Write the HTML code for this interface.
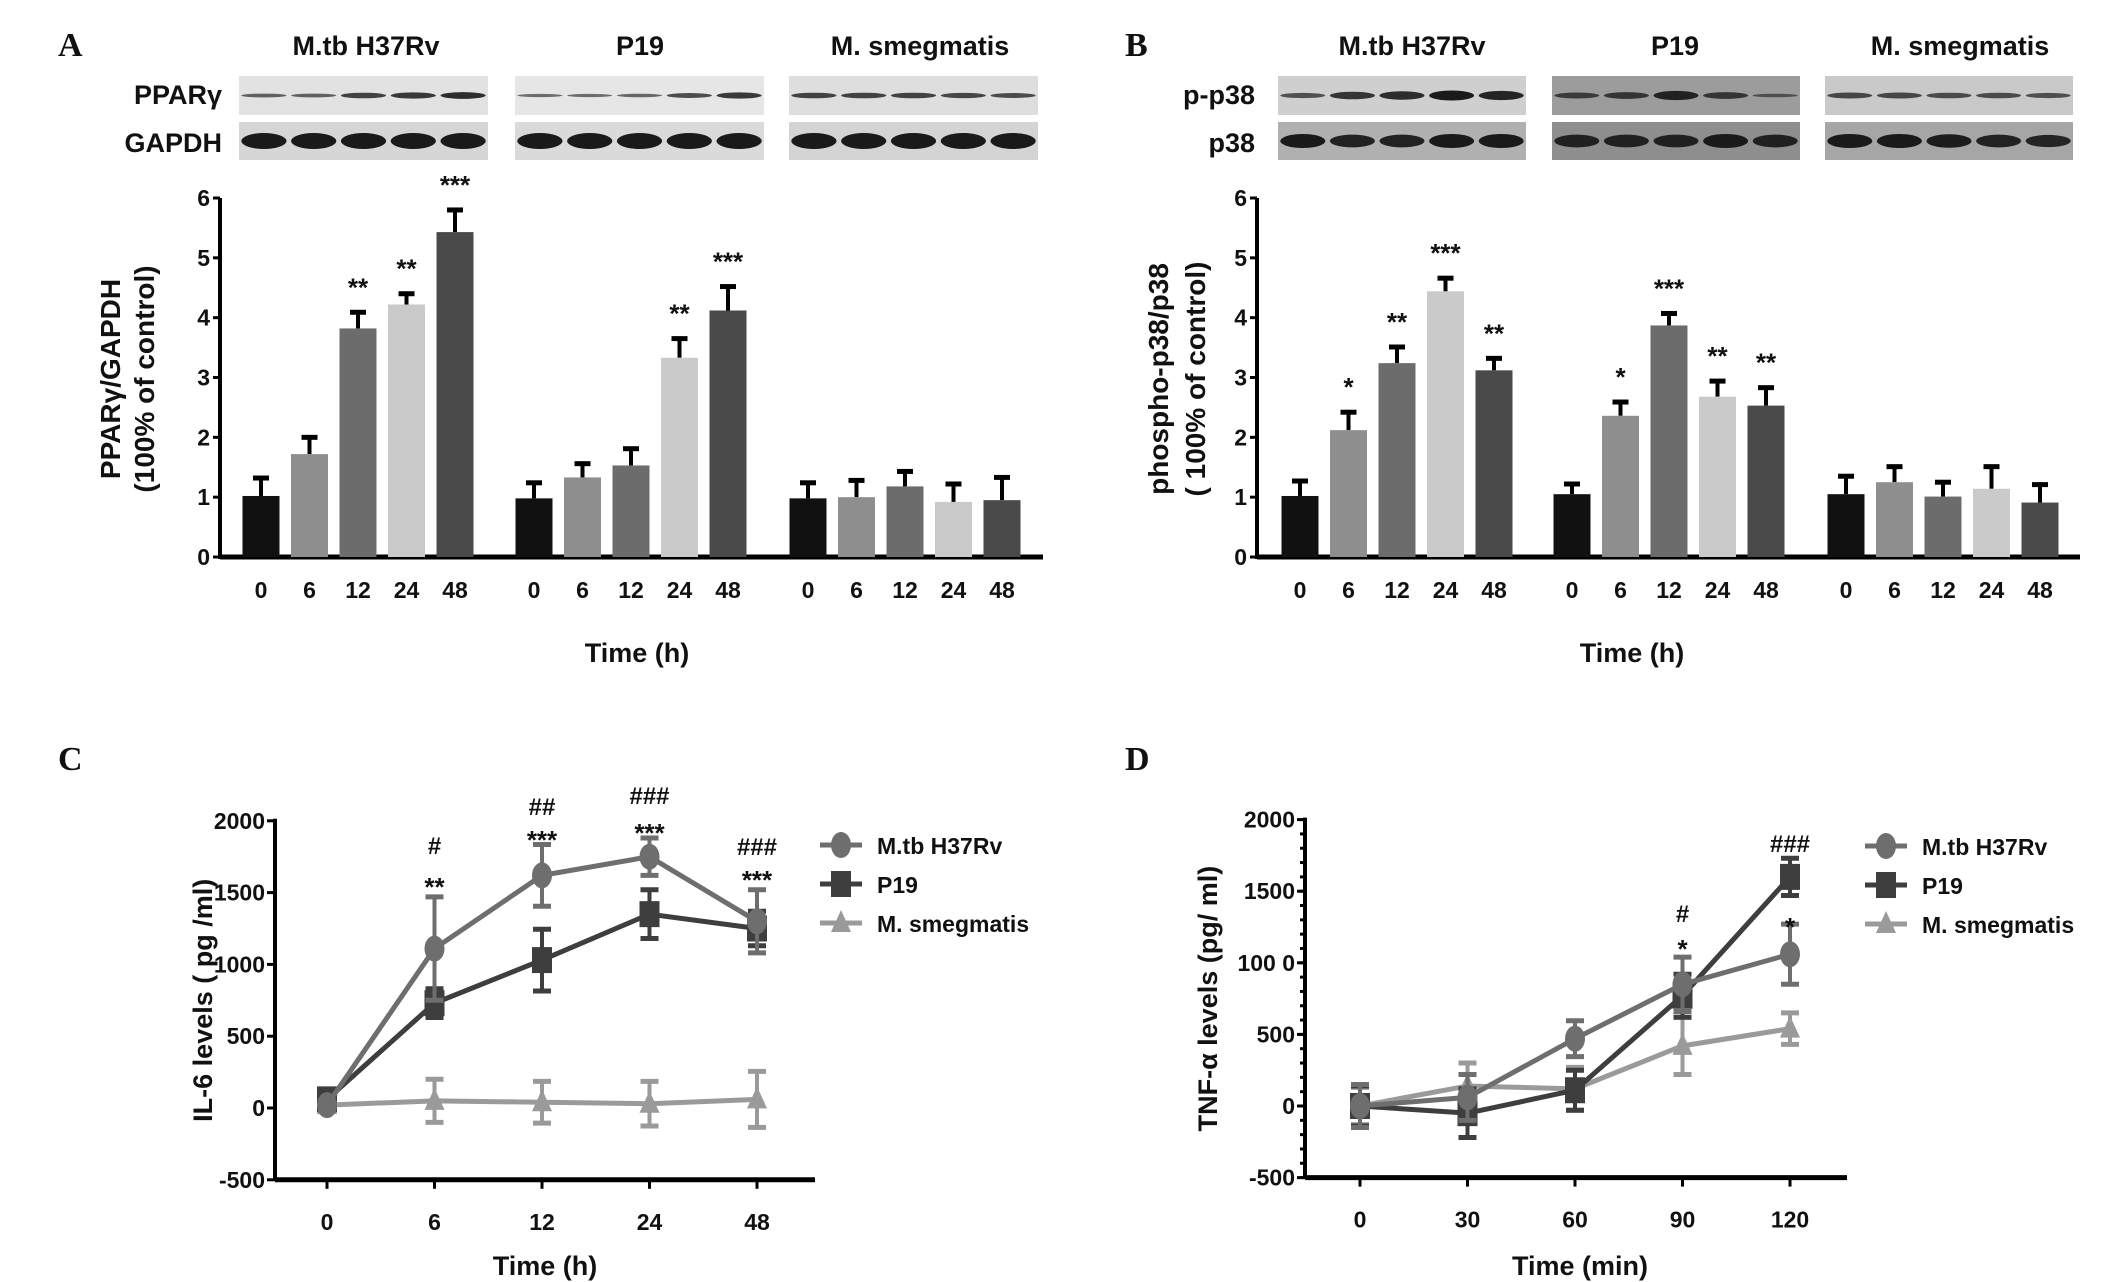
<!DOCTYPE html>
<html><head><meta charset="utf-8"><style>
html,body{margin:0;padding:0;background:#fff;}
svg{display:block;}
text{font-family:"Liberation Sans",Arial,sans-serif;font-weight:bold;fill:#111;}
.n{font-family:"Liberation Sans Narrow","Liberation Sans",sans-serif;}
.pl{font-family:"Liberation Serif",serif;font-size:34px;}
</style></head><body>
<svg id="fig" width="2126" height="1282" viewBox="0 0 2126 1282" xmlns="http://www.w3.org/2000/svg"></svg>
<script>
// ---- Bar data (A, B) ----
const barGroups = ["M.tb H37Rv","P19","M. smegmatis"];
const barTimes = ["0","6","12","24","48"];
const aValues = [1.02,1.72,3.82,4.22,5.43, 0.98,1.33,1.53,3.33,4.12, 0.98,1.00,1.18,0.92,0.95];
const aErrors = [0.30,0.28,0.27,0.18,0.37, 0.26,0.23,0.28,0.32,0.40, 0.26,0.28,0.25,0.30,0.38];
const aStars  = ["","","**","**","***", "","","","**","***", "","","","",""];
const bValues = [1.02,2.12,3.24,4.44,3.12, 1.05,2.36,3.87,2.68,2.53, 1.05,1.25,1.01,1.14,0.91];
const bErrors = [0.25,0.30,0.27,0.22,0.20, 0.17,0.23,0.20,0.26,0.30, 0.30,0.26,0.24,0.37,0.30];
const bStars  = ["","*","**","***","**", "","*","***","**","**", "","","","",""];
const barTicks = [0,1,2,3,4,5,6];
// ---- Line data (C) ----
const cTimes = ["0","6","12","24","48"];
const cMtb = [20,1110,1620,1750,1300];
const cMtbErr = [30,360,215,130,220];
const cP19 = [60,730,1030,1350,1250];
const cP19Err = [30,100,215,170,120];
const cSmeg = [20,50,40,30,60];
const cSmegErr = [30,150,145,155,195];
const cAnnotStar = ["","**","***","***","***"];
const cAnnotHash = ["","#","##","###","###"];
// ---- Line data (D) ----
const dTimes = ["0","30","60","90","120"];
const dMtb = [0,60,470,850,1060];
const dMtbErr = [150,160,125,190,210];
const dP19 = [0,-50,110,770,1600];
const dP19Err = [140,170,140,150,130];
const dSmeg = [0,140,120,420,540];
const dSmegErr = [130,160,150,200,110];
const dAnnotStar = ["","","","*","*"];
const dAnnotHash = ["","","","#","###"];
const lineTicks = [-500,0,500,1000,1500,2000];
const dTickLabels = ["-500","0","500","100 0","1500","2000"];

const NS="http://www.w3.org/2000/svg";
const svg=document.getElementById('fig');
function el(tag,attrs,parent,txt){const e=document.createElementNS(NS,tag);for(const k in attrs)e.setAttribute(k,attrs[k]);if(txt!==undefined)e.textContent=txt;(parent||svg).appendChild(e);return e;}
const barColors=["#111111","#8e8e8e","#6c6c6c","#cacaca","#4a4a4a"];

function blots(g,x0s,w,rows,bands){
  rows.forEach((r,ri)=>{
    x0s.forEach((x0,gi)=>{
      const rc=el('rect',{x:x0,y:r.y,width:w,height:r.h,fill:r.bg[gi]},g);
      
      
      for(let i=0;i<5;i++){
        const cx=x0+w*(i+0.5)/5;
        const k=bands[ri][gi][i];
        const b=el('ellipse',{cx:cx,cy:r.y+r.h/2,rx:w/11,ry:r.band*k+1,fill:'#1a1a1a',opacity:0.5+0.5*k},g);
        
        
      }
    });
  });
}

function barPanel(o){
  const g=el('g',{});  
  const y=v=>o.y0-(v/6)*(o.y0-o.y6);
  const ax=el('line',{x1:o.ax,y1:o.y6,x2:o.ax,y2:o.y0+2,stroke:'#000','stroke-width':4},g);
  
  barTicks.forEach(t=>{
    el('line',{x1:o.ax-7,y1:y(t),x2:o.ax,y2:y(t),stroke:'#000','stroke-width':3},g);
    const tl=el('text',{x:o.ax-10,y:y(t)+8,'text-anchor':'end','font-size':23,class:'n'},g,t);
    
  });
  const xa=el('line',{x1:o.ax,y1:o.y0,x2:o.xend,y2:o.y0,stroke:'#000','stroke-width':5},g);
  
  o.vals.forEach((v,i)=>{
    const gi=Math.floor(i/5), ti=i%5;
    const cx=o.gx[gi]+ti*o.sp;
    const top=y(v), et=y(v+o.errs[i]);
    el('line',{x1:cx,y1:top,x2:cx,y2:et,stroke:'#000','stroke-width':4},g);
    el('line',{x1:cx-8,y1:et,x2:cx+8,y2:et,stroke:'#000','stroke-width':5},g);
    const r=el('rect',{x:cx-18.5,y:top,width:37,height:o.y0-top,fill:barColors[ti]},g);
    
    
    if(o.stars[i]){const s=el('text',{x:cx,y:et-16,'text-anchor':'middle','font-size':26},g,o.stars[i]);
      }
    const xl=el('text',{x:cx,y:598,'text-anchor':'middle','font-size':23,class:'n'},g,barTimes[ti]);
    
  });
  const xt=el('text',{x:o.xtx,y:662,'text-anchor':'middle','font-size':27,class:'n'},g,'Time (h)');
  
  const yt=el('text',{transform:`translate(${o.ytx},379) rotate(-90)`,'text-anchor':'middle','font-size':28},g);
  
  el('tspan',{x:0,y:0},yt,o.yt1); el('tspan',{x:0,y:o.gap},yt,o.yt2);
  barGroups.forEach((gn,gi)=>{
    const t=el('text',{x:o.titleX[gi],y:55,'text-anchor':'middle','font-size':27,class:'n'},g,gn);
    
  });
  return g;
}

const pl=[['A',58,44],['B',1125,44],['C',58,758],['D',1125,758]];
pl.forEach(p=>{const t=el('text',{x:p[1],y:p[2]+12,class:'pl'},svg,p[0]);});

// Panel A
const gA=barPanel({name:'panel-a-chart',ax:220,y0:557,y6:198,xend:1043,gx:[261,534,808],sp:48.5,vals:aValues,errs:aErrors,stars:aStars,xtx:637,ytx:120,gap:34,yt1:'PPARγ/GAPDH',yt2:'(100% of control)',titleX:[366,640,920]});
blots(gA,[239,515,789],249,[{name:'ppar',y:76,h:39,band:3,bg:['#e2e2e2','#e6e6e6','#dedede']},{name:'gapdh',y:122,h:38,band:7,bg:['#d6d6d6','#dadada','#d4d4d4']}],
 [[[0.3,0.3,0.6,0.7,0.8],[0.2,0.2,0.25,0.5,0.7],[0.6,0.6,0.6,0.55,0.5]],[[1,1,1,1,1],[1,1,1,1,1],[1,1,1,1,1]]]);
let t=el('text',{x:222,y:104,'text-anchor':'end','font-size':27,class:'n'},gA,'PPARγ');
t=el('text',{x:222,y:152,'text-anchor':'end','font-size':27,class:'n'},gA,'GAPDH');

// Panel B
const gB=barPanel({name:'panel-b-chart',ax:1257,y0:557,y6:198,xend:2080,gx:[1300,1572,1846],sp:48.5,vals:bValues,errs:bErrors,stars:bStars,xtx:1632,ytx:1168,gap:37,yt1:'phospho-p38/p38',yt2:'( 100% of control)',titleX:[1412,1675,1960]});
blots(gB,[1278,1552,1825],248,[{name:'p-p38',y:76,h:39,band:4,bg:['#cfcfcf','#9c9c9c','#c9c9c9']},{name:'p38',y:122,h:38,band:6,bg:['#b0b0b0','#8e8e8e','#a6a6a6']}],
 [[[0.4,0.7,0.8,1,0.9],[0.5,0.6,0.9,0.6,0.2],[0.5,0.5,0.45,0.45,0.4]],[[1,0.9,0.9,1,1],[0.9,0.9,0.9,1,0.9],[1,1,0.95,0.9,0.85]]]);
t=el('text',{x:1255,y:104,'text-anchor':'end','font-size':27,class:'n'},gB,'p-p38');
t=el('text',{x:1255,y:152,'text-anchor':'end','font-size':27,class:'n'},gB,'p38');

// Line panels
const lineColors={mtb:'#6e6e6e',p19:'#3e3e3e',smeg:'#9a9a9a'};
function marker(g,kind,x,y,col){
  let m;
  if(kind==='mtb') m=el('ellipse',{cx:x,cy:y,rx:10,ry:13,fill:col},g);
  else if(kind==='p19') m=el('rect',{x:x-10,y:y-13,width:20,height:26,fill:col},g);
  else m=el('polygon',{points:`${x},${y-13} ${x+10},${y+9} ${x-10},${y+9}`,fill:col},g);
  return m;
}
function linePanel(o){
  const g=el('g',{});
  const y=v=>o.yz-(v/500)*o.u;
  const x=i=>o.xs0+i*o.xsp;
  const ya=el('line',{x1:o.ax,y1:y(2000)-2,x2:o.ax,y2:y(-500),stroke:'#000','stroke-width':4},g);
  
  if(o.minor){for(let v=-500;v<=2000;v+=100){el('line',{x1:o.ax-5,y1:y(v),x2:o.ax,y2:y(v),stroke:'#000','stroke-width':3},g);}}
  lineTicks.forEach((v,i)=>{
    el('line',{x1:o.ax-8,y1:y(v),x2:o.ax,y2:y(v),stroke:'#000','stroke-width':3},g);
    const tl=el('text',{x:o.ax-10,y:y(v)+8,'text-anchor':'end','font-size':23,class:'n'},g,o.tlabels[i]);
    
  });
  const xa=el('line',{x1:o.ax,y1:y(-500),x2:o.xend,y2:y(-500),stroke:'#000','stroke-width':5},g);
  
  o.times.forEach((tt,i)=>{
    el('line',{x1:x(i),y1:y(-500),x2:x(i),y2:y(-500)+9,stroke:'#000','stroke-width':3},g);
    const xl=el('text',{x:x(i),y:y(-500)+50,'text-anchor':'middle','font-size':23,class:'n'},g,tt);
    
  });
  const series=[['smeg',o.smeg,o.smegE],['p19',o.p19,o.p19E],['mtb',o.mtb,o.mtbE]];
  series.forEach(([k,vals,errs])=>{
    const col=lineColors[k];
    vals.forEach((v,i)=>{
      el('line',{x1:x(i),y1:y(v-errs[i]),x2:x(i),y2:y(v+errs[i]),stroke:col,'stroke-width':4},g);
      el('line',{x1:x(i)-9,y1:y(v-errs[i]),x2:x(i)+9,y2:y(v-errs[i]),stroke:col,'stroke-width':5},g);
      el('line',{x1:x(i)-9,y1:y(v+errs[i]),x2:x(i)+9,y2:y(v+errs[i]),stroke:col,'stroke-width':5},g);
    });
    const pts=vals.map((v,i)=>x(i)+','+y(v)).join(' ');
    const pl=el('polyline',{points:pts,fill:'none',stroke:col,'stroke-width':5},g);
    
    vals.forEach((v,i)=>{const m=marker(g,k,x(i),y(v),col);
      });
  });
  o.stars.forEach((s,i)=>{
    if(s){const st=el('text',{x:x(i),y:o.starY[i],'text-anchor':'middle','font-size':26},g,s);}
    if(o.hashes[i]){const h=el('text',{x:x(i),y:o.hashY[i],'text-anchor':'middle','font-size':24,class:'n'},g,o.hashes[i]);}
  });
  const xt=el('text',{x:o.xtx,y:1275,'text-anchor':'middle','font-size':27,class:'n'},g,o.xtitle);
  
  const yt=el('text',{transform:`translate(${o.ytx},${y(750)}) rotate(-90)`,'text-anchor':'middle','font-size':27},g,o.ytitle);
  
  [['mtb','M.tb H37Rv'],['p19','P19'],['smeg','M. smegmatis']].forEach(([k,lab],i)=>{
    const ly=o.legY+i*39;
    const lg=el('g',{},g);
    el('line',{x1:o.legX,y1:ly,x2:o.legX+42,y2:ly,stroke:lineColors[k],'stroke-width':5},lg);
    marker(lg,k,o.legX+21,ly,lineColors[k]);
    el('text',{x:o.legX+57,y:ly+9,'font-size':23},lg,lab);
  });
}
linePanel({name:'panel-c-chart',ax:275,yz:1108,u:71.8,xs0:327,xsp:107.5,xend:815,times:cTimes,mtb:cMtb,mtbE:cMtbErr,p19:cP19,p19E:cP19Err,smeg:cSmeg,smegE:cSmegErr,
  stars:cAnnotStar,hashes:cAnnotHash,starY:[0,896,849,842,889],hashY:[0,854,815,804,855],tlabels:["-500","0","500","1000","1500","2000"],minor:false,
  xtitle:'Time (h)',xtx:545,ytx:212,ytitle:'IL-6 levels ( pg /ml)',legX:820,legY:845});
linePanel({name:'panel-d-chart',ax:1305,yz:1106,u:71.6,xs0:1360,xsp:107.5,xend:1847,times:dTimes,mtb:dMtb,mtbE:dMtbErr,p19:dP19,p19E:dP19Err,smeg:dSmeg,smegE:dSmegErr,
  stars:dAnnotStar,hashes:dAnnotHash,starY:[0,0,0,958,936],hashY:[0,0,0,922,852],tlabels:dTickLabels,minor:true,
  xtitle:'Time (min)',xtx:1580,ytx:1217,ytitle:'TNF-α  levels (pg/ ml)',legX:1865,legY:846});
</script>
</body></html>
